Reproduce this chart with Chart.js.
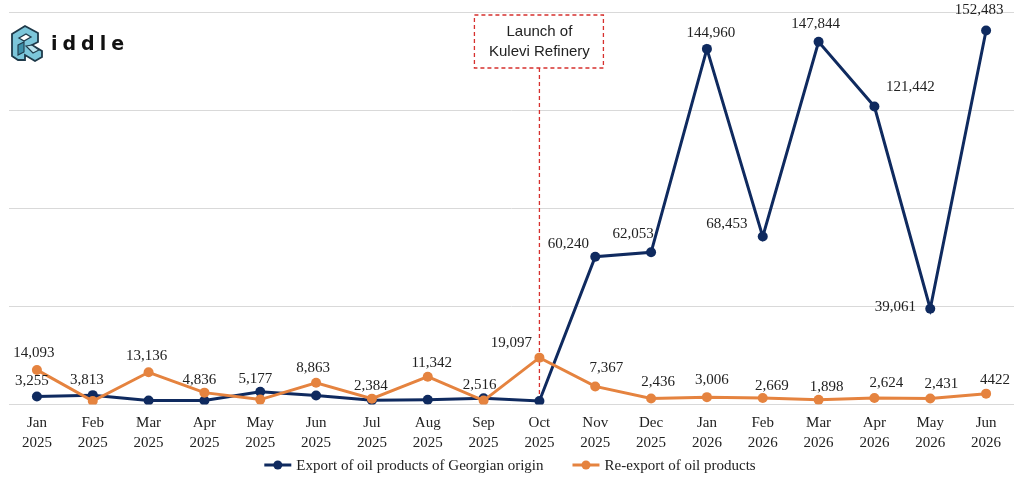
<!DOCTYPE html>
<html>
<head>
<meta charset="utf-8">
<script src="https://cdn.jsdelivr.net/npm/chart.js@4.4.1/dist/chart.umd.min.js"></script>
<style>
  html, body { margin: 0; padding: 0; background: #fff; }
  #wrap { position: relative; width: 1024px; height: 492px; }
  #logo { position: absolute; left: 9px; top: 24px; display: flex; align-items: center; }
  #logo span { font-family: "DejaVu Sans", sans-serif; font-weight: bold; font-size: 19px; letter-spacing: 5px; color: #111; margin-left: 6px; }
</style>
</head>
<body>
<div id="wrap">
  <canvas id="oilChart" width="1024" height="492"></canvas>
  <div id="logo">
    <svg width="36" height="38" viewBox="0 0 36 38">
      <polygon points="3,10 16,2 29,9 29,18 23,21 33,27 33,33 26,37 16,31 16,36 9,36 3,32" fill="#7cc6da" stroke="#1f3a4a" stroke-width="1.8"/>
      <polygon points="10,14 17,10 22,13 15,17" fill="#ffffff" stroke="#1f3a4a" stroke-width="1.3"/>
      <polygon points="9,21 15,18 15,28 9,31" fill="#3d8fa8" stroke="#1f3a4a" stroke-width="1.1"/>
      <polygon points="17,22 23,21 30,26 24,29" fill="#b9e3ee" stroke="#1f3a4a" stroke-width="1.1"/>
    </svg>
    <span>iddle</span>
  </div>
</div>
<script>
// DATA
const months = [
  ["Jan", "2025"], ["Feb", "2025"], ["Mar", "2025"], ["Apr", "2025"], ["May", "2025"], ["Jun", "2025"],
  ["Jul", "2025"], ["Aug", "2025"], ["Sep", "2025"], ["Oct", "2025"], ["Nov", "2025"], ["Dec", "2025"],
  ["Jan", "2026"], ["Feb", "2026"], ["Mar", "2026"], ["Apr", "2026"], ["May", "2026"], ["Jun", "2026"]
];
const exportGeorgian = [3255, 3813, 1600, 1600, 5177, 3700, 1700, 1900, 2516, 1400, 60240, 62053, 144960, 68453, 147844, 121442, 39061, 152483];
const reExport = [14093, 1400, 13136, 4836, 2000, 8863, 2384, 11342, 1600, 19097, 7367, 2436, 3006, 2669, 1898, 2624, 2431, 4422];
const exportLabels = ["3,255", "3,813", null, null, "5,177", null, null, null, "2,516", null, "60,240", "62,053", "144,960", "68,453", "147,844", "121,442", "39,061", "152,483"];
const reExportLabels = ["14,093", null, "13,136", "4,836", null, "8,863", "2,384", "11,342", null, "19,097", "7,367", "2,436", "3,006", "2,669", "1,898", "2,624", "2,431", "4422"];
const seriesNames = ["Export of oil products of Georgian origin", "Re-export of oil products"];
const yTicks = [0, 40000, 80000, 120000, 160000];
const eventMonth = 9;
const eventText = ["Launch of", "Kulevi Refinery"];

// STYLE
const NAVY = "#0f2a5f";
const ORANGE = "#e5833f";
const SERIF = "'Liberation Serif', 'Times New Roman', serif";
const seriesColors = [NAVY, ORANGE];

// label offsets (text centre relative to point)
const exportOffsets = [[-5, -15], [-6, -15], null, null, [-5, -13], null, null, null, [-4, -13], null,
  [-27, -13], [-18, -18], [4, -16], [-36, -13], [-3, -18], [36, -20], [-35, -2], [-7, -20]];
const reExportOffsets = [[-3, -17], null, [-2, -16], [-5, -13], null, [-3, -15], [-1, -13], [4, -14], null, [-28, -15],
  [11, -18], [7, -16], [5, -17], [9, -12], [8, -13], [12, -15], [11, -14], [9, -14]];

// EVENT ANNOTATION
const eventPlugin = {
  id: "eventLine",
  beforeDatasetsDraw(chart) {
    const { ctx, scales: { x, y } } = chart;
    const px = x.getPixelForValue(eventMonth);
    const boxL = px - 65, boxR = px + 64, boxT = 15, boxB = 68;
    ctx.save();
    ctx.strokeStyle = "#d6302e";
    ctx.lineWidth = 1.3;
    ctx.setLineDash([4, 3]);
    ctx.beginPath();
    ctx.moveTo(px, boxB);
    ctx.lineTo(px, y.getPixelForValue(0) - 3);
    ctx.stroke();
    ctx.fillStyle = "#fff";
    ctx.fillRect(boxL, boxT, boxR - boxL, boxB - boxT);
    ctx.strokeRect(boxL, boxT, boxR - boxL, boxB - boxT);
    ctx.setLineDash([]);
    ctx.fillStyle = "#222";
    ctx.font = "15px 'Liberation Sans', Arial, sans-serif";
    ctx.textAlign = "center";
    ctx.textBaseline = "middle";
    ctx.fillText(eventText[0], px, 32);
    ctx.fillText(eventText[1], px, 52);
    ctx.restore();
  }
};

// VALUE LABELS
const valuePlugin = {
  id: "valueLabels",
  afterDatasetsDraw(chart) {
    const { ctx } = chart;
    const sets = [[exportLabels, exportOffsets], [reExportLabels, reExportOffsets]];
    ctx.save();
    ctx.font = "15px " + SERIF;
    ctx.fillStyle = "#222";
    ctx.textAlign = "center";
    ctx.textBaseline = "middle";
    sets.forEach(([texts, offs], di) => {
      const meta = chart.getDatasetMeta(di);
      meta.data.forEach((pt, i) => {
        if (!texts[i] || !offs[i]) return;
        ctx.fillText(texts[i], pt.x + offs[i][0], pt.y + offs[i][1]);
      });
    });
    ctx.restore();
  }
};

// LEGEND (line + dot markers, wide gap between items)
const legendPlugin = {
  id: "lineLegend",
  afterDraw(chart) {
    const { ctx } = chart;
    const markW = 27, markGap = 5, itemGap = 29, cy = 465;
    ctx.save();
    ctx.font = "15px " + SERIF;
    const widths = seriesNames.map(t => markW + markGap + ctx.measureText(t).width);
    const total = widths.reduce((a, b) => a + b, 0) + itemGap * (widths.length - 1);
    let x = chart.width / 2 - total / 2 - 2;
    ctx.textBaseline = "middle";
    ctx.textAlign = "left";
    seriesNames.forEach((name, i) => {
      const c = seriesColors[i];
      ctx.strokeStyle = c; ctx.lineWidth = 3;
      ctx.beginPath(); ctx.moveTo(x, cy); ctx.lineTo(x + markW, cy); ctx.stroke();
      ctx.fillStyle = c;
      ctx.beginPath(); ctx.arc(x + markW / 2, cy, 4.5, 0, Math.PI * 2); ctx.fill();
      ctx.fillStyle = "#222";
      ctx.fillText(name, x + markW + markGap, cy + 1);
      x += widths[i] + itemGap;
    });
    ctx.restore();
  }
};

new Chart(document.getElementById("oilChart"), {
  type: "line",
  data: {
    labels: months,
    datasets: [
      {
        label: seriesNames[0], data: exportGeorgian, order: 1,
        borderColor: NAVY, backgroundColor: NAVY, borderWidth: 3,
        pointRadius: 5, pointBackgroundColor: NAVY, pointBorderWidth: 0, tension: 0
      },
      {
        label: seriesNames[1], data: reExport, order: 0,
        borderColor: ORANGE, backgroundColor: ORANGE, borderWidth: 3,
        pointRadius: 5, pointBackgroundColor: ORANGE, pointBorderWidth: 0, tension: 0
      }
    ]
  },
  options: {
    responsive: false,
    animation: false,
    layout: { padding: { left: 9, right: 10, top: 12, bottom: 39 } },
    scales: {
      x: {
        offset: true,
        grid: { display: false },
        border: { display: false },
        ticks: { color: "#222", font: { family: SERIF, size: 15, lineHeight: 1.35 }, padding: 0, maxRotation: 0, autoSkip: false }
      },
      y: {
        min: yTicks[0], max: yTicks[yTicks.length - 1],
        afterBuildTicks: s => { s.ticks = yTicks.map(v => ({ value: v })); },
        grid: { color: "#d9d9d9", lineWidth: 1, drawTicks: false },
        border: { display: false },
        ticks: { display: false }
      }
    },
    plugins: {
      tooltip: { enabled: false },
      legend: { display: false }
    }
  },
  plugins: [eventPlugin, valuePlugin, legendPlugin]
});
</script>
</body>
</html>
